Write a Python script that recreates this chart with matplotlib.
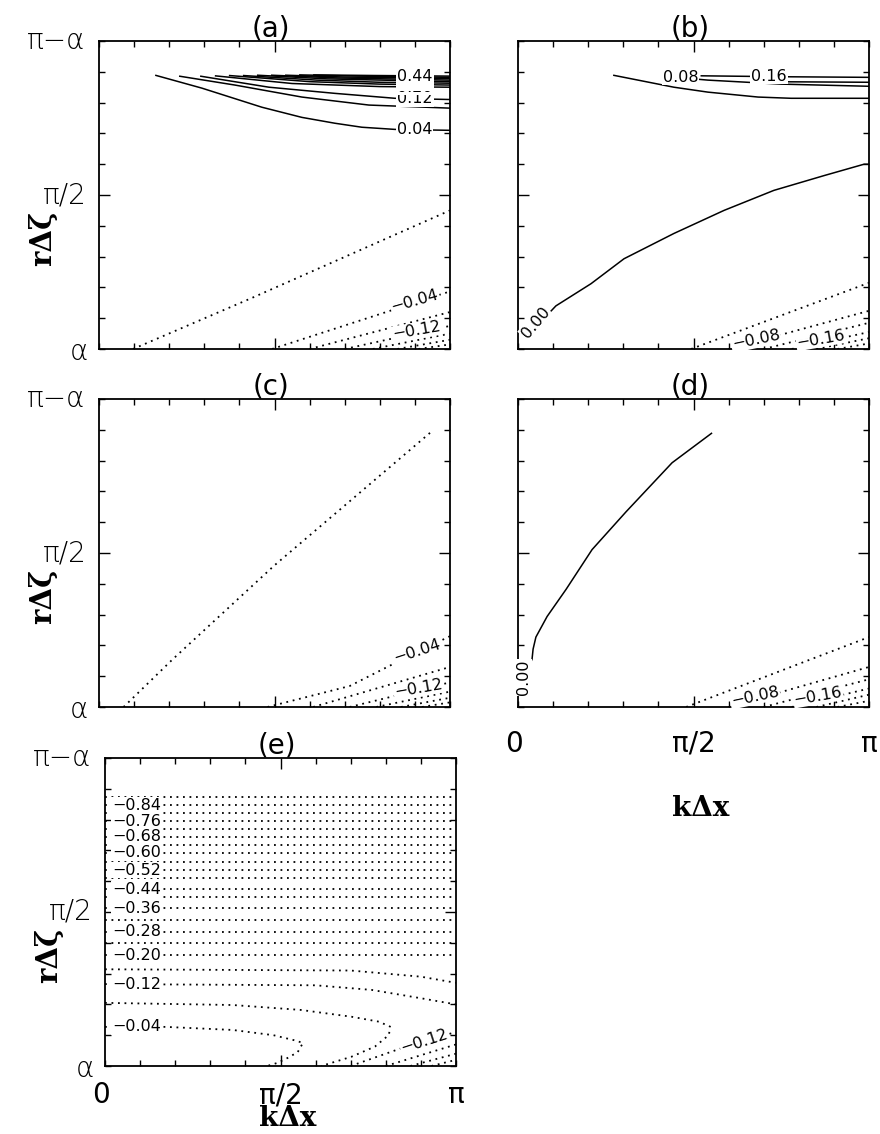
import matplotlib.pyplot as plt
from matplotlib.ticker import MultipleLocator, FixedLocator, NullFormatter

# contour lines
# x = k*dx / pi (0..1), y = position between alpha (0) and pi - alpha (1)

# ---- panel (a)
a_levels = [0.04, 0.08, 0.12, 0.16, 0.20, 0.24, 0.28, 0.32, 0.36, 0.40, 0.44,
            -0.00, -0.04, -0.08, -0.12, -0.16, -0.20, -0.24]
a_x = [[0.16, 0.293, 0.464, 0.578, 0.672, 0.749, 0.843, 1.0],
       [0.228, 0.387, 0.578, 0.769, 1.0],
       [0.288, 0.484, 0.672, 0.843, 1.0],
       [0.33, 0.55, 0.8, 1.0],
       [0.37, 0.6, 0.8, 1.0],
       [0.41, 0.62, 0.8, 1.0],
       [0.45, 0.65, 1.0],
       [0.49, 0.68, 1.0],
       [0.53, 0.7, 1.0],
       [0.57, 0.74, 1.0],
       [0.61, 0.78, 1.0],
       [0.097, 0.436, 1.0],
       [0.493, 1.0],
       [0.60, 1.0],
       [0.70, 1.0],
       [0.78, 1.0],
       [0.85, 1.0],
       [0.91, 1.0]]
a_y = [[0.889, 0.847, 0.785, 0.752, 0.733, 0.720, 0.713, 0.71],
       [0.886, 0.857, 0.818, 0.792, 0.782],
       [0.886, 0.85, 0.83, 0.814, 0.81],
       [0.887, 0.862, 0.852, 0.85],
       [0.888, 0.868, 0.86, 0.857],
       [0.888, 0.873, 0.866, 0.863],
       [0.889, 0.877, 0.868],
       [0.889, 0.88, 0.873],
       [0.889, 0.883, 0.878],
       [0.89, 0.886, 0.882],
       [0.89, 0.888, 0.886],
       [0.0, 0.166, 0.45],
       [0.0, 0.187],
       [0.0, 0.12],
       [0.0, 0.075],
       [0.0, 0.05],
       [0.0, 0.03],
       [0.0, 0.015]]
a_labels = [("0.04", 0.9, 0.713, 0), ("0.12", 0.9, 0.812, 0), ("0.20", 0.9, 0.85, 0),
            ("0.28", 0.9, 0.865, 0), ("0.36", 0.9, 0.876, 0), ("0.44", 0.9, 0.886, 0),
            ("\u22120.04", 0.9, 0.156, 16), ("\u22120.12", 0.906, 0.06, 10)]

# ---- panel (b)
b_levels = [0.04, 0.08, 0.12, 0.16, 0.00, -0.04, -0.08, -0.12, -0.16, -0.20, -0.24]
b_x = [[0.271, 0.444, 0.541, 0.684, 0.778, 1.0],
       [0.42, 0.541, 0.75, 1.0],
       [0.70, 1.0],
       [0.52, 0.75, 1.0],
       [0.025, 0.108, 0.208, 0.302, 0.444, 0.587, 0.729, 0.872, 0.986, 1.0],
       [0.493, 1.0],
       [0.60, 1.0],
       [0.70, 1.0],
       [0.78, 1.0],
       [0.85, 1.0],
       [0.91, 1.0]]
b_y = [[0.889, 0.85, 0.834, 0.818, 0.814, 0.814],
       [0.885, 0.873, 0.86, 0.853],
       [0.868, 0.866],
       [0.887, 0.884, 0.882],
       [0.04, 0.14, 0.212, 0.293, 0.375, 0.45, 0.515, 0.563, 0.60, 0.60],
       [0.0, 0.215],
       [0.0, 0.124],
       [0.0, 0.085],
       [0.0, 0.055],
       [0.0, 0.035],
       [0.0, 0.018]]
b_labels = [("0.08", 0.464, 0.883, 0), ("0.16", 0.715, 0.886, 0), ("0.00", 0.05, 0.085, 50),
            ("\u22120.08", 0.678, 0.03, 12), ("\u22120.16", 0.863, 0.033, 10)]

# ---- panel (c)
c_levels = [-0.00, -0.04, -0.08, -0.12, -0.16, -0.20, -0.24]
c_x = [[0.07, 0.21, 0.5, 0.943],
       [0.48, 0.714, 0.837, 1.0],
       [0.61, 1.0],
       [0.714, 1.0],
       [0.79, 1.0],
       [0.86, 1.0],
       [0.92, 1.0]]
c_y = [[0.0, 0.155, 0.46, 0.89],
       [0.0, 0.068, 0.139, 0.23],
       [0.0, 0.13],
       [0.0, 0.08],
       [0.0, 0.05],
       [0.0, 0.03],
       [0.0, 0.015]]
c_labels = [("\u22120.04", 0.906, 0.18, 18), ("\u22120.12", 0.91, 0.06, 10)]

# ---- panel (d)
d_levels = [0.00, -0.04, -0.08, -0.12, -0.16, -0.20, -0.24]
d_x = [[0.553, 0.439, 0.308, 0.211, 0.137, 0.083, 0.051, 0.043, 0.04, 0.03],
       [0.479, 1.0],
       [0.60, 1.0],
       [0.70, 1.0],
       [0.78, 1.0],
       [0.85, 1.0],
       [0.91, 1.0]]
d_y = [[0.89, 0.793, 0.634, 0.511, 0.382, 0.294, 0.227, 0.188, 0.155, 0.13],
       [0.0, 0.227],
       [0.0, 0.13],
       [0.0, 0.09],
       [0.0, 0.06],
       [0.0, 0.04],
       [0.0, 0.02]]
d_labels = [("0.00", 0.017, 0.095, 90), ("\u22120.08", 0.675, 0.035, 12),
            ("\u22120.16", 0.855, 0.036, 10)]

# ---- panel (e)
e_flat_levels = [-0.88, -0.84, -0.80, -0.76, -0.72, -0.68, -0.64, -0.60, -0.56, -0.52,
                 -0.48, -0.44, -0.40, -0.36, -0.32, -0.28, -0.24, -0.20]
e_flat_y = [0.874, 0.847, 0.82, 0.795, 0.768, 0.745, 0.717, 0.693, 0.663, 0.636,
            0.609, 0.574, 0.55, 0.512, 0.474, 0.436, 0.40, 0.36]
e_levels = [-0.16, -0.12, -0.08, -0.04, -0.12, -0.16, -0.20, -0.24]
e_x = [[0.0, 0.7, 0.9, 1.0],
       [0.0, 0.6, 0.76, 0.9, 1.0],
       [0.0, 0.364, 0.558, 0.702, 0.78, 0.812, 0.809, 0.769, 0.702, 0.616],
       [0.0, 0.173, 0.364, 0.48, 0.538, 0.564, 0.549, 0.52, 0.491, 0.462],
       [0.70, 0.9, 1.0],
       [0.80, 1.0],
       [0.87, 1.0],
       [0.93, 1.0]]
e_y = [[0.314, 0.31, 0.29, 0.27],
       [0.266, 0.262, 0.247, 0.22, 0.2],
       [0.205, 0.198, 0.182, 0.16, 0.144, 0.128, 0.101, 0.063, 0.03, 0.0],
       [0.127, 0.127, 0.117, 0.10, 0.084, 0.075, 0.045, 0.026, 0.01, 0.0],
       [0.0, 0.08, 0.11],
       [0.0, 0.07],
       [0.0, 0.04],
       [0.0, 0.02]]
e_labels = [("\u22120.12", 0.91, 0.08, 18)]
e_label_levels = [-0.84, -0.76, -0.68, -0.60, -0.52, -0.44, -0.36, -0.28, -0.20, -0.12, -0.04]
e_label_y = [0.847, 0.795, 0.745, 0.693, 0.636, 0.574, 0.512, 0.436, 0.36, 0.266, 0.127]

DOT = (0, (1, 2.6))
LBL_FONT = "DejaVu Sans"


def is_negative(lev):
    # -0.00 lines are drawn dotted like the negative ones
    return lev < 0 or str(lev).startswith("-")


def draw_lines(ax, levels, xs, ys):
    for lev, x, y in zip(levels, xs, ys):
        if is_negative(lev):
            ax.plot(x, y, color="black", lw=1.3, linestyle=DOT)
        else:
            ax.plot(x, y, color="black", lw=1.1, solid_capstyle="butt")


def draw_labels(ax, labels):
    for txt, x, y, rot in labels:
        ax.text(x, y, txt, ha="center", va="center", rotation=rot,
                fontsize=11.5, family=LBL_FONT,
                bbox=dict(facecolor="white", edgecolor="none", pad=0.6))


def setup(ax, title):
    ax.set_xlim(0, 1)
    ax.set_ylim(0, 1)
    ax.xaxis.set_major_locator(FixedLocator([0.5]))
    ax.yaxis.set_major_locator(FixedLocator([0.5]))
    ax.xaxis.set_minor_locator(MultipleLocator(0.1))
    ax.yaxis.set_minor_locator(MultipleLocator(0.1))
    ax.xaxis.set_major_formatter(NullFormatter())
    ax.yaxis.set_major_formatter(NullFormatter())
    ax.tick_params(which="both", direction="in", top=True, right=True, width=1.0)
    ax.tick_params(which="major", length=8)
    ax.tick_params(which="minor", length=4)
    for s in ax.spines.values():
        s.set_linewidth(1.3)
    ax.text(0.49, 0.995, title, transform=ax.transAxes, ha="center", va="bottom",
            fontsize=20, family="DejaVu Sans")


def y_ticks(ax):
    kw = dict(transform=ax.transAxes, ha="right", va="center", fontsize=20,
              family="DejaVu Sans", fontweight="light")
    ax.text(-0.04, 1.0, "\u03c0\u2212\u03b1", **kw)
    ax.text(-0.035, 0.5, "\u03c0/2", **kw)
    ax.text(-0.03, -0.01, "\u03b1", **kw)
    ax.text(-0.16, 0.36, "r\u0394\u03b6", transform=ax.transAxes, rotation=90,
            ha="center", va="center", fontsize=21, family="DejaVu Serif", fontweight="bold")


def x_ticks(ax, dy, dlab):
    kw = dict(transform=ax.transAxes, ha="center", va="center", fontsize=20,
              family="DejaVu Sans")
    ax.text(-0.01, -dy, "0", **kw)
    ax.text(0.5, -dy, "\u03c0/2", **kw)
    ax.text(1.0, -dy, "\u03c0", **kw)
    ax.text(0.52, -dlab, "k\u0394x", transform=ax.transAxes, ha="center", va="center",
            fontsize=20, family="DejaVu Serif", fontweight="bold")


fig = plt.figure(figsize=(8.8, 11.34), dpi=100)
W, H = 880, 1134
left_l, left_r, aw, ah = 99, 518, 351, 308
rows = [41, 399, 758]


def make_ax(x0, top):
    return fig.add_axes([x0 / W, 1 - (top + ah) / H, aw / W, ah / H])


ax_a = make_ax(left_l, rows[0])
ax_b = make_ax(left_r, rows[0])
ax_c = make_ax(left_l, rows[1])
ax_d = make_ax(left_r, rows[1])
ax_e = make_ax(left_l + 6, rows[2])

for ax, t in zip([ax_a, ax_b, ax_c, ax_d, ax_e], ["(a)", "(b)", "(c)", "(d)", "(e)"]):
    setup(ax, t)

draw_lines(ax_a, a_levels, a_x, a_y)
draw_labels(ax_a, a_labels)
draw_lines(ax_b, b_levels, b_x, b_y)
draw_labels(ax_b, b_labels)
draw_lines(ax_c, c_levels, c_x, c_y)
draw_labels(ax_c, c_labels)
draw_lines(ax_d, d_levels, d_x, d_y)
draw_labels(ax_d, d_labels)

for lev, y in zip(e_flat_levels, e_flat_y):
    ax_e.plot([0, 1], [y, y], color="black", lw=1.3, linestyle=DOT)
draw_lines(ax_e, e_levels, e_x, e_y)
for lev, y in zip(e_label_levels, e_label_y):
    ax_e.text(0.09, y, f"\u2212{abs(lev):.2f}", ha="center", va="center", fontsize=11.5,
              family=LBL_FONT, bbox=dict(facecolor="white", edgecolor="none", pad=0.6))
draw_labels(ax_e, e_labels)

for ax in [ax_a, ax_c, ax_e]:
    y_ticks(ax)
x_ticks(ax_e, 0.095, 0.17)
x_ticks(ax_d, 0.12, 0.33)

fig.savefig("out.png", dpi=100)
